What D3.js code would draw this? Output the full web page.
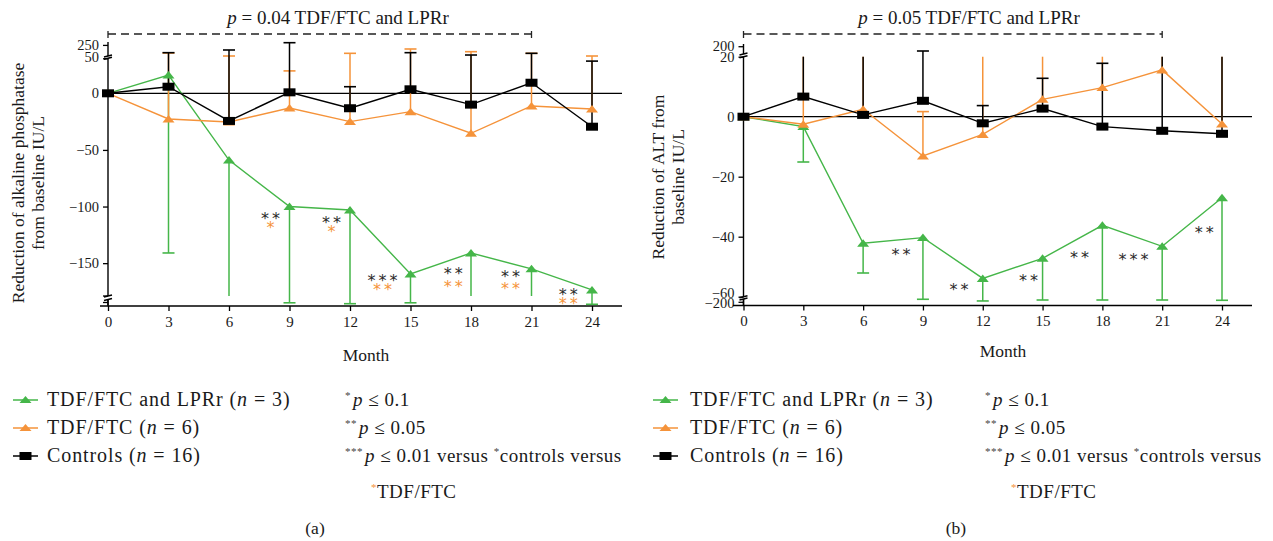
<!DOCTYPE html>
<html><head><meta charset="utf-8">
<script src="https://cdn.jsdelivr.net/npm/d3@7/dist/d3.min.js"></script>
<style>
body{margin:0;background:#fff;}
svg text{font-family:"Liberation Serif","Times New Roman",serif;fill:#1a1a1a;}
</style></head>
<body><svg id="c" width="1273" height="541"></svg>
<script>
// ---------- DATA ----------
const months = [0, 3, 6, 9, 12, 15, 18, 21, 24];
const xTicks = [0, 3, 6, 9, 12, 15, 18, 21, 24];
const seriesNames = ["TDF/FTC and LPRr", "TDF/FTC", "Controls"];
const seriesN = [3, 6, 16];

// Panel (a): alkaline phosphatase
const aGreen   = [0, 26, -59, -100, -103, -159.5, -141, -155, -173.6];
const aGreenLo = [0, -141, -185, -201, -204, -201, -185, -185, -206];
const aOrange  = [0, -22.7, -25.3, -13, -25, -16.2, -35.3, -11.2, -13.9];
const aOrangeHi= [0, 111, 60, 32, 106, 180, 134, 106, 60];
const aBlack   = [0, 9.4, -24.4, 1.4, -13.2, 5.7, -10, 15.1, -29.5];
const aBlackHi = [0, 117, 163, 288, 9.4, 117, 77, 106, 46];
const aYTicks  = [250, 50, 0, -50, -100, -150];
const aYMinor  = [-179, -200];
const aTitleP  = "0.04";
const aSig = [ // month position, value, black stars, orange stars
  {m: 8.13, v: -108.3, k: "**", o: "*", vo: -116.2},
  {m: 11.16, v: -111.8, k: "**", o: "*", vo: -119.8},
  {m: 13.68, v: -162.8, k: "***", o: "**", vo: -171.2},
  {m: 17.2, v: -156.6, k: "**", o: "**", vo: -168.3},
  {m: 20.03, v: -159.5, k: "**", o: "**", vo: -169.8},
  {m: 22.9, v: -175.1, k: "**", o: "**", vo: -194}
];

// Panel (b): ALT
const bGreen   = [0, -3.3, -42.2, -40.3, -53.9, -47.2, -36.2, -43.2, -27];
const bGreenLo = [0, -15.1, -52.1, -191, -197, -193.6, -193.6, -193.6, -194.6];
const bOrange  = [0, -2.5, 2.5, -13.1, -5.9, 5.8, 9.7, 15.6, -2.4];
const bOrangeHi= [0, 22, 22, 1.7, 22, 22, 22, 22, 22];
const bBlack   = [0, 6.7, 0.6, 5.3, -2.2, 2.7, -3.3, -4.7, -5.7];
const bBlackHi = [0, 22, 22, 92.5, 3.7, 12.8, 17.8, 22, 22];
const bYTicks  = [200, 20, 0, -20, -40, -60, -200];
const bYMinor  = [];
const bTitleP  = "0.05";
const bSig = [
  {m: 7.98, v: -45, k: "**"},
  {m: 10.89, v: -56.7, k: "**"},
  {m: 14.37, v: -53.7, k: "**"},
  {m: 16.93, v: -46.1, k: "**"},
  {m: 19.64, v: -46.9, k: "***"},
  {m: 23.18, v: -37.8, k: "**"}
];

// ---------- STYLE ----------
const GREEN = "#45b649", ORANGE = "#f5933a", BLACK = "#000";
const svg = d3.select("#c");

function panel(cfg) {
  const g = svg.append("g");
  const x = d3.scaleLinear().domain([0, 24]).range(cfg.xr);
  const y = d3.scaleLinear().domain(cfg.yd).range(cfg.yr);
  const inGap = v => cfg.gaps.some(gp => v > gp[0] && v < gp[1]);
  const clampEnd = (v, base) => {
    for (const gp of cfg.gaps) {
      if (v > gp[0] && v < gp[1]) return base < gp[0] ? gp[0] : gp[1];
    }
    return v;
  };
  const x0 = x(0), ax = cfg.axisY;

  // zero line
  g.append("line").attr("x1", x0).attr("x2", cfg.xEnd).attr("y1", y(0)).attr("y2", y(0))
    .attr("stroke", "#000").attr("stroke-width", 1.3);

  // y axis segments
  cfg.segs.forEach(s => {
    g.append("line").attr("x1", x0).attr("x2", x0).attr("y1", y(s[0])).attr("y2", y(s[1]))
      .attr("stroke", "#000").attr("stroke-width", 1.4);
  });
  cfg.segs.forEach(s => {
    [s[0], s[1]].forEach(v => {
      if (v <= cfg.yd[0] || v >= cfg.yd[cfg.yd.length - 1]) return;
      g.append("line").attr("x1", x0 - 4).attr("x2", x0 + 4).attr("y1", y(v) + 1).attr("y2", y(v) - 1)
        .attr("stroke", "#000").attr("stroke-width", 1.4);
    });
  });
  g.append("line").attr("x1", x0).attr("x2", x0).attr("y1", y(cfg.segs[0][1])).attr("y2", ax)
    .attr("stroke", "#000").attr("stroke-width", 1.4);

  const yAxis = d3.axisLeft(y).tickValues(cfg.yTicks).tickSize(5).tickFormat(d => d < 0 ? "\u2212" + Math.abs(d) : d);
  const ya = g.append("g").attr("transform", `translate(${x0},0)`).call(yAxis);
  ya.select(".domain").remove();
  ya.selectAll(".tick line").attr("stroke", "#000").attr("stroke-width", 1.3);
  ya.selectAll(".tick text").style("font-size", "14.5px").attr("x", -9)
    .attr("dy", d => (cfg.labelShift[d] || 0) + 4.5 + "px");
  cfg.yMinor.forEach(v => {
    g.append("line").attr("x1", x0 - 5).attr("x2", x0).attr("y1", y(v)).attr("y2", y(v))
      .attr("stroke", "#000").attr("stroke-width", 1.3);
  });

  // x axis
  g.append("line").attr("x1", cfg.xStart).attr("x2", cfg.xEnd).attr("y1", ax).attr("y2", ax)
    .attr("stroke", "#000").attr("stroke-width", 1.4);
  const xAxis = d3.axisBottom(x).tickValues(xTicks).tickSize(5).tickSizeOuter(0);
  const xa = g.append("g").attr("transform", `translate(0,${ax})`).call(xAxis);
  xa.select(".domain").remove();
  xa.selectAll(".tick line").attr("stroke", "#000").attr("stroke-width", 1.3);
  xa.selectAll(".tick text").style("font-size", "15px").attr("y", 10);

  // series
  const line = d3.line().x((d, i) => x(months[i])).y(d => y(d));
  function errBars(vals, ends, color) {
    vals.forEach((v, i) => {
      const e = ends[i];
      if (e === v) return;
      const end = clampEnd(e, v);
      const xx = x(months[i]);
      g.append("line").attr("x1", xx).attr("x2", xx).attr("y1", y(v)).attr("y2", y(end))
        .attr("stroke", color).attr("stroke-width", 1.5);
      if (!inGap(e)) {
        g.append("line").attr("x1", xx - 6).attr("x2", xx + 6).attr("y1", y(e)).attr("y2", y(e))
          .attr("stroke", color).attr("stroke-width", 1.6);
      }
    });
  }
  function tri(vals, color) {
    g.selectAll(null).data(vals).enter().append("path")
      .attr("d", (d, i) => { const xx = x(months[i]), yy = y(d); return `M${xx - 6},${yy + 3.5}L${xx},${yy - 4}L${xx + 6},${yy + 3.5}Z`; })
      .attr("fill", color);
  }
  errBars(cfg.green, cfg.greenE, GREEN);
  errBars(cfg.orange, cfg.orangeE, ORANGE);
  errBars(cfg.black, cfg.blackE, BLACK);
  g.append("path").attr("d", line(cfg.green)).attr("fill", "none").attr("stroke", GREEN).attr("stroke-width", 1.4);
  g.append("path").attr("d", line(cfg.orange)).attr("fill", "none").attr("stroke", ORANGE).attr("stroke-width", 1.4);
  g.append("path").attr("d", line(cfg.black)).attr("fill", "none").attr("stroke", BLACK).attr("stroke-width", 1.4);
  tri(cfg.green, GREEN);
  tri(cfg.orange, ORANGE);
  g.selectAll(null).data(cfg.black).enter().append("rect")
    .attr("x", (d, i) => x(months[i]) - 6).attr("y", d => y(d) - 4).attr("width", 12).attr("height", 8).attr("fill", BLACK);

  // significance stars (black row and orange row in one text element)
  cfg.sig.forEach(s => {
    const tx = g.append("text").attr("text-anchor", "middle")
      .style("font-family", "DejaVu Sans").style("font-size", "16px").style("letter-spacing", "3px");
    tx.append("tspan").attr("x", x(s.m)).attr("y", y(s.v) + 8).style("fill", "#2a2a2a").text(s.k);
    if (s.o) tx.append("tspan").attr("x", x(s.m)).attr("y", y(s.vo) + 8).style("fill", ORANGE).text(s.o);
  });

  // dashed comparison bracket
  const dy = 34, xe = x(21);
  g.append("line").attr("x1", x0).attr("x2", xe).attr("y1", dy).attr("y2", dy)
    .attr("stroke", "#222").attr("stroke-width", 1.4).attr("stroke-dasharray", "8,5");
  [x0, xe].forEach(xx => g.append("line").attr("x1", xx).attr("x2", xx).attr("y1", dy - 3).attr("y2", dy + 4)
    .attr("stroke", "#222").attr("stroke-width", 1.3));
  const t = g.append("text").attr("x", cfg.titleX).attr("y", 24).attr("text-anchor", "middle").style("font-size", "19px");
  t.append("tspan").style("font-style", "italic").text("p");
  t.append("tspan").text(" = " + cfg.p + " TDF/FTC and LPRr");

  // y title
  cfg.yTitle.forEach((ln, i) => {
    g.append("text").attr("transform", `translate(${cfg.yTitleX[i]},${cfg.yTitleY}) rotate(-90)`)
      .attr("text-anchor", "middle").style("font-size", "17.5px").text(ln);
  });
  g.append("text").attr("x", cfg.monthX).attr("y", cfg.monthY).attr("text-anchor", "middle").style("font-size", "17.5px").text("Month");

  // legend
  const colors = [GREEN, ORANGE, BLACK];
  const L = cfg.leg;
  seriesNames.forEach((nm, i) => {
    const yy = 400 + i * 28;
    g.append("line").attr("x1", L.x).attr("x2", L.x + 25).attr("y1", yy).attr("y2", yy).attr("stroke", colors[i]).attr("stroke-width", 1.5);
    const cx = L.x + 12.5;
    if (i < 2) g.append("path").attr("d", `M${cx - 6},${yy + 3}L${cx},${yy - 4}L${cx + 6},${yy + 3}Z`).attr("fill", colors[i]);
    else g.append("rect").attr("x", cx - 6).attr("y", yy - 4).attr("width", 12).attr("height", 8).attr("fill", BLACK);
    const tx = g.append("text").attr("x", L.x + L.tx).attr("y", yy + 6).style("font-size", "20px").style("letter-spacing", "0.9px");
    tx.append("tspan").text(nm + " (");
    tx.append("tspan").style("font-style", "italic").text("n");
    tx.append("tspan").text(" = " + seriesN[i] + ")");
  });
  const sigTxt = [["*", "0.1"], ["**", "0.05"], ["***", "0.01 versus "]];
  sigTxt.forEach((s, i) => {
    const yy = 406 + i * 28;
    const tx = g.append("text").attr("x", L.sx).attr("y", yy).style("font-size", "19px").style("letter-spacing", "0.5px");
    tx.append("tspan").style("font-size", "11px").attr("dy", "-7").style("fill", "#444").text(s[0]);
    tx.append("tspan").style("font-style", "italic").attr("dy", "7").attr("dx", "2").text("p");
    tx.append("tspan").text(" \u2264 " + s[1]);
    if (i === 2) {
      tx.append("tspan").style("font-size", "11px").attr("dy", "-7").style("fill", "#444").text("*");
      tx.append("tspan").attr("dy", "7").text("controls versus");
    }
  });
  const t2 = g.append("text").attr("x", L.sx + 26).attr("y", 498).style("font-size", "19px").style("letter-spacing", "0.5px");
  t2.append("tspan").style("font-size", "11px").attr("dy", "-7").style("fill", ORANGE).text("*");
  t2.append("tspan").attr("dy", "7").text("TDF/FTC");
  g.append("text").attr("x", cfg.capX).attr("y", 534).attr("text-anchor", "middle").style("font-size", "17.5px").text(cfg.cap);
}

panel({
  xr: [108, 592], xStart: 100, xEnd: 622, axisY: 306,
  yd: [-210, -190, -179, 0, 50, 60, 300], yr: [305.5, 299.5, 296, 93.3, 58.3, 56, 42],
  gaps: [[-190, -179], [50, 60]], segs: [[-210, -190], [-179, 50], [60, 300]],
  yTicks: aYTicks, yMinor: aYMinor, labelShift: {50: -1.5, 250: 0},
  green: aGreen, greenE: aGreenLo, orange: aOrange, orangeE: aOrangeHi, black: aBlack, blackE: aBlackHi,
  sig: aSig, p: aTitleP, titleX: 338,
  yTitle: ["Reduction of alkaline phosphatase", "from baseline IU/L"], yTitleX: [24, 44], yTitleY: 183,
  monthX: 366, monthY: 361,
  leg: {x: 13, tx: 34, sx: 345}, cap: "(a)", capX: 315
});
panel({
  xr: [743.5, 1222], xStart: 733, xEnd: 1252, axisY: 305.5,
  yd: [-215, -190, -60, 20, 25, 250], yr: [306, 299, 296.7, 56.7, 54, 44],
  gaps: [[-190, -60], [20, 25]], segs: [[-215, -190], [-60, 20], [25, 250]],
  yTicks: bYTicks, yMinor: bYMinor, labelShift: {"-60": -4, "-200": 1},
  green: bGreen, greenE: bGreenLo, orange: bOrange, orangeE: bOrangeHi, black: bBlack, blackE: bBlackHi,
  sig: bSig, p: bTitleP, titleX: 969,
  yTitle: ["Reduction of ALT from", "baseline IU/L"], yTitleX: [664, 684], yTitleY: 177,
  monthX: 1003, monthY: 357,
  leg: {x: 653, tx: 37, sx: 985}, cap: "(b)", capX: 956
});
</script></body></html>
